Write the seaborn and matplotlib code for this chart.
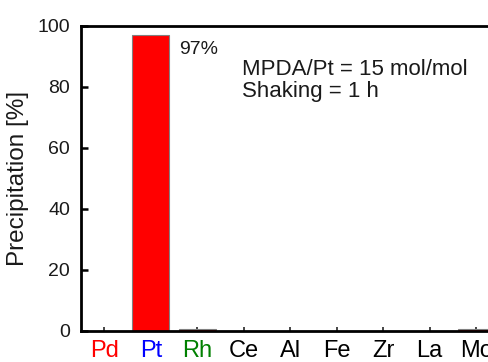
import matplotlib
matplotlib.use("Agg")
import matplotlib.pyplot as plt
import seaborn as sns
import pandas as pd

elements = ["Pd", "Pt", "Rh", "Ce", "Al", "Fe", "Zr", "La", "Mo"]
precipitation = [0.0, 97.0, 0.4, 0.0, 0.0, 0.0, 0.0, 0.0, 0.4]
label_colors = ["#ff0000", "#0000ff", "#008000", "black", "black",
                "black", "black", "black", "black"]
yticks = [0, 20, 40, 60, 80, 100]

sns.set_theme(style="ticks")
plt.rcParams["font.family"] = ["Liberation Sans", "DejaVu Sans"]

df = pd.DataFrame({"element": elements, "value": precipitation})

fig = plt.figure(figsize=(4.89, 3.62), dpi=100)
ax = fig.add_axes([81 / 489, 31.5 / 362, 418.5 / 489, 304.5 / 362])

sns.barplot(data=df, x="element", y="value", color="#ff0000",
            saturation=1, edgecolor="#808080", linewidth=0.8,
            width=0.8, ax=ax)

ax.set_xlim(-0.5, len(elements) - 0.5)
ax.set_ylim(0, 100)
ax.set_yticks(yticks)
ax.set_xlabel("")
ax.set_ylabel("Precipitation [%]", fontsize=17.5, color="#1a1a1a", labelpad=6)

for side in ["left", "right", "top", "bottom"]:
    ax.spines[side].set_linewidth(2.0)
    ax.spines[side].set_color("black")

ax.tick_params(axis="y", direction="in", length=5, width=1.8,
               labelsize=14, colors="black", labelcolor="#1a1a1a", pad=8)
ax.tick_params(axis="x", direction="in", length=3, width=1.2,
               labelsize=17, pad=7)
for lbl, c in zip(ax.get_xticklabels(), label_colors):
    lbl.set_color(c)

ax.text(1.6, 95.2, f"{precipitation[1]:.0f}%", fontsize=14,
        color="#1a1a1a", va="top", ha="left")
ax.text(2.97, 89.2, "MPDA/Pt = 15 mol/mol\nShaking = 1 h", fontsize=16,
        color="#1a1a1a", va="top", ha="left", linespacing=1.1)

fig.savefig("out.png", dpi=100)
